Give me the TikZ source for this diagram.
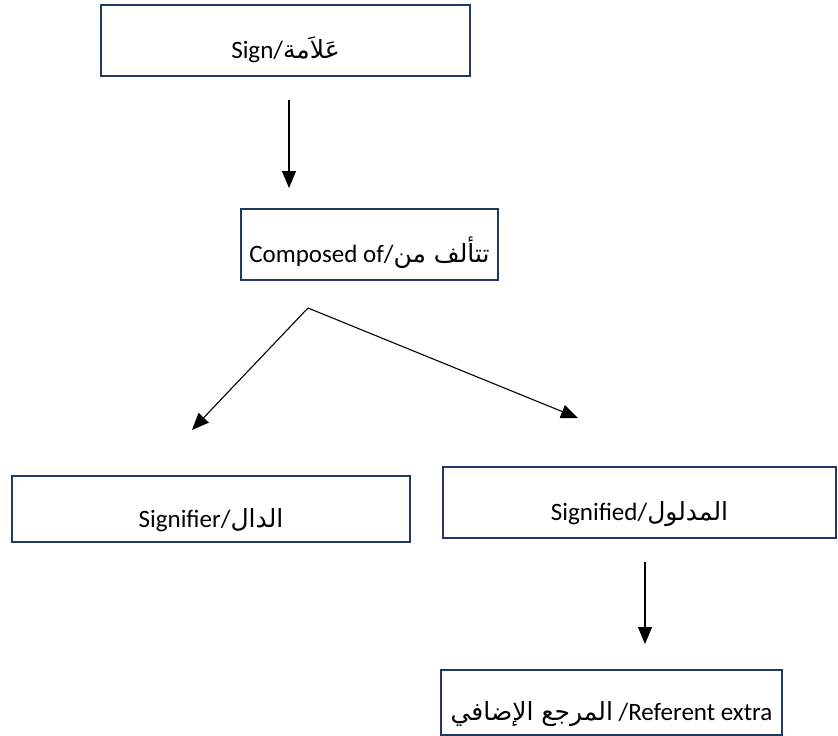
\documentclass[tikz,border=0pt]{standalone}
\usepackage{fontspec}
\setmainfont{Carlito}
\newfontfamily\arabicfont[Script=Arabic]{DejaVu Sans}
\TeXXeTstate=1
\usetikzlibrary{arrows.meta,positioning}
\definecolor{boxblue}{RGB}{31,56,100}

\tikzset{
  box/.style={draw=boxblue, line width=2.2pt, inner sep=2pt,
    text height=36pt, text depth=0pt, font=\fontsize{25}{30}\selectfont},
  arr/.style={-{Triangle[length=17pt,width=14pt]}, line width=1.1pt},
}

\begin{document}
\begin{tikzpicture}[x=1pt,y=-1pt]
    \useasboundingbox (0,0) rectangle (838,736);

    \node[box, minimum width=369pt, minimum height=71pt] (sign) at (285.5,40.5) {Sign/{\arabicfont\beginR عَلاَمة\endR}};

    \coordinate (a1) at (289,100); \coordinate (a2) at (289,188); \draw[arr] (a1) -- (a2);

    \node[box, minimum width=257pt, minimum height=71pt] (comp) at (369.5,244.5) {Composed of/{\arabicfont\beginR تتألف من\endR}};

    \coordinate (fork) at (308,308);
    \coordinate (lt) at (192,430); \draw[arr] (fork) -- (lt);
    \coordinate (rt) at (578,418); \draw[arr] (fork) -- (rt);

    \node[box, minimum width=398pt, minimum height=66pt] (sfier) at (211,509) {Signifier/{\arabicfont\beginR الدال\endR}};
    \node[box, minimum width=393pt, minimum height=71pt] (sfied) at (639.5,502.5) {Signified/{\arabicfont\beginR المدلول\endR}};

    \coordinate (b1) at (645,562); \coordinate (b2) at (645,644); \draw[arr] (b1) -- (b2);

    \node[box, minimum width=341pt, minimum height=65pt] (ref) at (611.5,702.5) {{\arabicfont\beginR المرجع الإضافي\endR} /Referent extra};
\end{tikzpicture}
\end{document}
